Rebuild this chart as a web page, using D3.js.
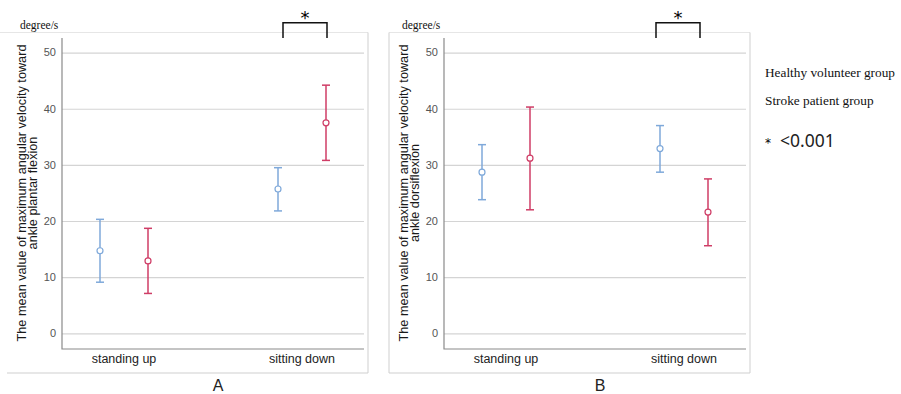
<!DOCTYPE html>
<html>
<head>
<meta charset="utf-8">
<script src="https://cdn.jsdelivr.net/npm/d3@7"></script>
<style>
  body { margin: 0; background: #fff; }
  svg { display: block; }
  .grid line { stroke: #d4d4d4; stroke-width: 1.2; }
  .grid path { display: none; }
  .ytick text { font-family: "Liberation Sans", Arial, sans-serif; font-size: 11px; fill: #555; }
  .xlab { font-family: "Liberation Sans", Arial, sans-serif; font-size: 12.5px; fill: #222; }
  .ytitle { font-family: "Liberation Sans", Arial, sans-serif; font-size: 12.7px; fill: #1a1a1a; }
  .serif { font-family: "Liberation Serif", "Times New Roman", serif; fill: #111; }
</style>
</head>
<body>
<div id="chart"></div>
<script>
var W = 901, H = 394;

// categories and groups
var categories = ["standing up", "sitting down"];
var groups = ["Healthy volunteer group", "Stroke patient group"];
var groupColors = ["#7fa9da", "#cf3d66"];
var yTicks = [0, 10, 20, 30, 40, 50];

// panel A : plantar flexion  [standing up, sitting down]
var A_healthyMean = [14.7, 25.7];
var A_healthyLow  = [9.1, 21.8];
var A_healthyHigh = [20.3, 29.5];
var A_strokeMean  = [12.9, 37.5];
var A_strokeLow   = [7.1, 30.8];
var A_strokeHigh  = [18.7, 44.2];

// panel B : dorsiflexion
var B_healthyMean = [28.7, 32.9];
var B_healthyLow  = [23.8, 28.7];
var B_healthyHigh = [33.6, 37.0];
var B_strokeMean  = [31.2, 21.6];
var B_strokeLow   = [22.0, 15.6];
var B_strokeHigh  = [40.3, 27.5];

var panels = [
  { letter: "A", x0: 0, title: ["The mean value of maximum angular velocity toward", "ankle plantar flexion"],
    series: [[A_healthyMean, A_healthyLow, A_healthyHigh], [A_strokeMean, A_strokeLow, A_strokeHigh]],
    sig: "sitting down", bShift: [5, 1] },
  { letter: "B", x0: 382, title: ["The mean value of maximum angular velocity toward", "ankle dorsiflexion"],
    series: [[B_healthyMean, B_healthyLow, B_healthyHigh], [B_strokeMean, B_strokeLow, B_strokeHigh]],
    sig: "sitting down", bShift: [-4, -8] }
];

var svg = d3.select("#chart").append("svg")
    .attr("width", W)
    .attr("height", H);

function drawPanel(p) {
  var g = svg.append("g").attr("transform", "translate(" + p.x0 + ",0)");
  var axL = 62, axR = 364, axB = 349, axT = 38;

  var y = d3.scaleLinear().domain([0, 50]).range([333.3, 52.6]);
  var x = d3.scalePoint().domain(categories).range([124, 302]);
  var off = d3.scalePoint().domain(groups).range([-24, 24]);

  // frame
  g.append("line").attr("x1", p.letter == "A" ? 0 : 7).attr("x2", 368).attr("y1", 32.5).attr("y2", 32.5)
    .attr("stroke", "#e6e6e6");
  g.append("line").attr("x1", 368).attr("x2", 368).attr("y1", 32.5).attr("y2", 373)
    .attr("stroke", "#cfcfcf");
  g.append("line").attr("x1", 7).attr("x2", 368).attr("y1", 373).attr("y2", 373)
    .attr("stroke", "#cfcfcf");
  if (p.letter == "B")
    g.append("line").attr("x1", 7).attr("x2", 7).attr("y1", 32.5).attr("y2", 373)
      .attr("stroke", "#cfcfcf");

  // grid lines
  g.append("g")
    .attr("class", "grid")
    .attr("transform", "translate(" + axL + ",0)")
    .call(d3.axisLeft(y).tickValues(yTicks).tickFormat("").tickSize(-(axR - axL)));

  // y tick labels
  g.append("g").attr("class", "ytick")
    .selectAll("text").data(yTicks).enter().append("text")
    .attr("x", axL - 6).attr("y", function (d) { return y(d); })
    .attr("dy", "0.35em").attr("text-anchor", "end")
    .text(function (d) { return d; });

  // axes lines
  g.append("path")
    .attr("d", "M" + axL + "," + axT + "V" + axB + "H" + axR)
    .attr("fill", "none").attr("stroke", "#8a8a8a").attr("stroke-width", 1.2);

  // category labels
  g.selectAll(".xlab").data(categories).enter().append("text")
    .attr("class", "xlab")
    .attr("x", function (d) { return x(d); })
    .attr("y", 363)
    .attr("text-anchor", "middle")
    .text(function (d) { return d; });

  // y title
  var t = g.append("text").attr("class", "ytitle")
    .attr("transform", "translate(26,193) rotate(-90)")
    .attr("text-anchor", "middle");
  t.append("tspan").attr("x", 0).attr("y", 0).text(p.title[0]);
  t.append("tspan").attr("x", 0).attr("y", 10.5).text(p.title[1]);

  // units
  g.append("text").attr("class", "serif").attr("x", 20).attr("y", 29)
    .style("font-size", "11.5px").text("degree/s");

  // error bars
  p.series.forEach(function (s, gi) {
    var col = groupColors[gi];
    var eg = g.append("g");
    categories.forEach(function (c, ci) {
      var cx = x(c) + off(groups[gi]);
      eg.append("line").attr("x1", cx).attr("x2", cx)
        .attr("y1", y(s[1][ci])).attr("y2", y(s[2][ci]))
        .attr("stroke", col).attr("stroke-width", 1.5);
      [s[1][ci], s[2][ci]].forEach(function (v) {
        eg.append("line").attr("x1", cx - 4).attr("x2", cx + 4)
          .attr("y1", y(v)).attr("y2", y(v))
          .attr("stroke", col).attr("stroke-width", 1.5);
      });
      eg.append("circle").attr("cx", cx).attr("cy", y(s[0][ci])).attr("r", 3)
        .attr("fill", "#fff").attr("stroke", col).attr("stroke-width", 1.2);
    });
  });

  // significance bracket
  var bx1 = x(p.sig) + off(groups[0]) + p.bShift[0], bx2 = x(p.sig) + off(groups[1]) + p.bShift[1];
  g.append("path")
    .attr("d", "M" + bx1 + ",38V22.7H" + bx2 + "V38")
    .attr("fill", "none").attr("stroke", "#111").attr("stroke-width", 1.5);
  g.append("text").attr("x", (bx1 + bx2) / 2).attr("y", 24)
    .attr("text-anchor", "middle")
    .style("font-family", "'DejaVu Sans', sans-serif").style("font-size", "18px")
    .text("*");

  // panel letter
  g.append("text").attr("x", 218).attr("y", 391)
    .attr("text-anchor", "middle")
    .style("font-family", "'Liberation Sans', Arial, sans-serif").style("font-size", "16px")
    .style("fill", "#222")
    .text(p.letter);
}

panels.forEach(drawPanel);

// legend (text only, as in the original)
svg.selectAll(".leg").data(groups).enter().append("text")
  .attr("class", "serif")
  .attr("x", 765).attr("y", function (d, i) { return 77 + i * 28; })
  .style("font-size", "13.3px")
  .text(function (d) { return d; });

var sigLeg = svg.append("text").attr("x", 765).attr("y", 147);
sigLeg.append("tspan").style("font-family", "'DejaVu Sans', sans-serif").style("font-size", "12px").text("*");
sigLeg.append("tspan").attr("dx", 9).style("font-family", "'Noto Sans', sans-serif")
  .style("font-size", "17.5px").style("fill", "#222").text("<0.001");
</script>
</body>
</html>
